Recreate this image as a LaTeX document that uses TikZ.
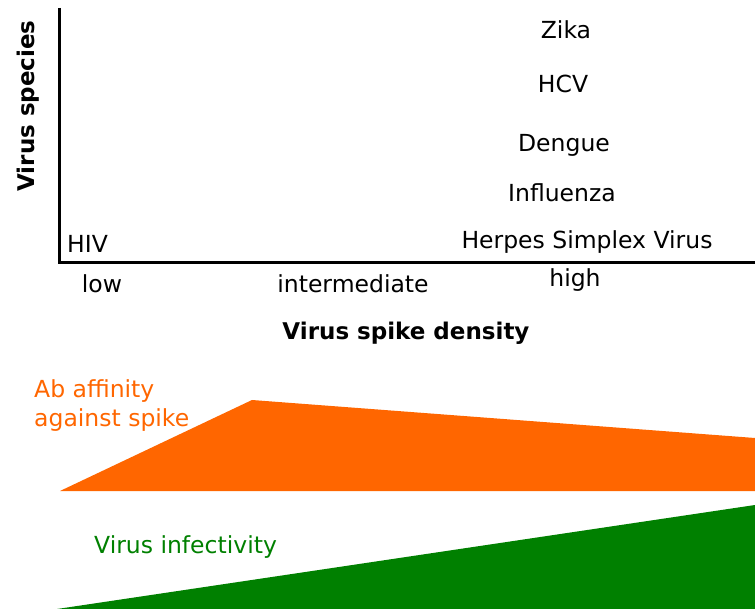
\documentclass[tikz,border=0pt]{standalone}
\usepackage{fontspec}
\setmainfont{DejaVu Sans}
\definecolor{aborange}{HTML}{FF6600}
\definecolor{infgreen}{HTML}{008000}
\begin{document}
\begin{tikzpicture}[x=1pt,y=-1pt,
  lbl/.style={inner sep=0pt,anchor=base,font=\fontsize{23.5}{28}\selectfont},
  axislbl/.style={inner sep=0pt,font=\fontsize{23}{28}\selectfont\bfseries},
  axis/.style={line width=3pt}]
\useasboundingbox (0,0) rectangle (755,609);
% axes
\coordinate (ytop) at (59,8);
\coordinate (orig) at (59,263);
\coordinate (xend) at (755,263);
\draw[axis] (ytop) -- (orig) -- (xend);
% axis labels
\node[axislbl,rotate=90] (ylab) at (28,106) {Virus species};
\node[axislbl,anchor=base] (xlab) at (406,340) {Virus spike density};
% tick labels
\node[lbl] (low) at (102,293) {low};
\node[lbl] (mid) at (353,293) {intermediate};
\node[lbl] (high) at (575,287) {high};
% viruses
\node[lbl,anchor=base west] (hiv) at (67,253) {HIV};
\node[lbl] (zika) at (566,39) {Zika};
\node[lbl] (hcv) at (563,93) {HCV};
\node[lbl] (dengue) at (564,152) {Dengue};
\node[lbl] (flu) at (562,202) {Influenza};
\node[lbl] (hsv) at (587,249) {Herpes Simplex Virus};
% orange area
\fill[aborange] (60,491) -- (252,400) -- (755,438) -- (755,491) -- cycle;
\node[lbl,text=aborange,anchor=base west] (ab1) at (34,398) {Ab affinity};
\node[lbl,text=aborange,anchor=base west] (ab2) at (34,426) {against spike};
% green area
\fill[infgreen] (57,609) -- (755,505) -- (755,609) -- cycle;
\node[lbl,text=infgreen,anchor=base west] (inf) at (94,553) {Virus infectivity};
\end{tikzpicture}
\end{document}
